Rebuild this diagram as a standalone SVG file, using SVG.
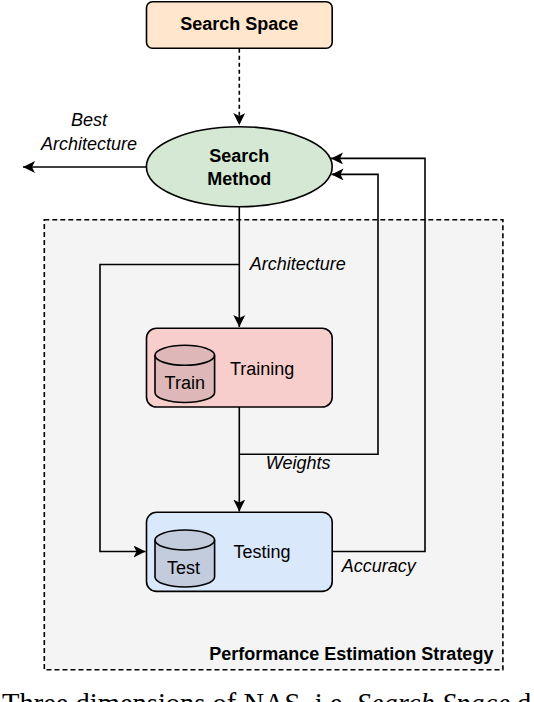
<svg xmlns="http://www.w3.org/2000/svg" width="534" height="702" viewBox="0 0 534 702">
<style>
.t{font-family:"Liberation Sans",Arial,sans-serif;font-size:18px;fill:#000}
.b{font-weight:bold}
.i{font-style:italic}
.n{stroke:#000;stroke-width:1.6}
.c{fill:none;stroke:#000;stroke-width:1.6}
</style>
<defs>
<marker id="ar" markerUnits="userSpaceOnUse" markerWidth="14" markerHeight="12" refX="12" refY="6" orient="auto">
<path d="M0,0 L12,6 L0,12 L3,6 z" fill="#000"/>
</marker>
</defs>
<rect x="0" y="0" width="534" height="702" fill="#fff"/>
<g id="perf-strategy">
<rect x="44.3" y="219.8" width="458.6" height="450" fill="#F4F4F4" stroke="#000" stroke-width="1.6" stroke-dasharray="5,3"/>
<text class="t b" x="493.4" y="660.2" text-anchor="end" font-size="18.5">Performance Estimation Strategy</text>
</g>
<g id="connectors">
<path class="c" d="M239.3,48.7 V125" stroke-dasharray="4,3" marker-end="url(#ar)"/>
<path class="c" d="M146.5,167 H23" marker-end="url(#ar)"/>
<path class="c" d="M239.3,206.8 V327" marker-end="url(#ar)"/>
<path class="c" d="M239.3,264.5 H100 V551.5 H145.5" marker-end="url(#ar)"/>
<path class="c" d="M239.3,407 V511.5" marker-end="url(#ar)"/>
<path class="c" d="M239.3,454.3 H378 V174.4 H331.5" marker-end="url(#ar)"/>
<path class="c" d="M332.2,551.5 H425 V158.4 H331" marker-end="url(#ar)"/>
<text class="t i" x="89" y="126" text-anchor="middle">Best</text>
<text class="t i" x="89" y="150" text-anchor="middle">Architecture</text>
<text class="t i" x="249.7" y="269.6">Architecture</text>
<text class="t i" x="265.8" y="468.7">Weights</text>
<text class="t i" x="341.7" y="572">Accuracy</text>
</g>
<g id="search-space">
<rect class="n" x="146.5" y="1.8" width="185.7" height="46.4" rx="6" fill="#FFE6CC"/>
<text class="t b" x="239.3" y="29.5" text-anchor="middle">Search Space</text>
</g>
<g id="search-method">
<ellipse class="n" cx="239.3" cy="166.7" rx="92.9" ry="40" fill="#D5E8D4"/>
<text class="t b" x="239.3" y="161.8" text-anchor="middle">Search</text>
<text class="t b" x="239.3" y="185" text-anchor="middle">Method</text>
</g>
<g id="training">
<rect class="n" x="146.5" y="328.2" width="185.7" height="78.8" rx="10" fill="#F8CECC"/>
<path class="n" d="M155,355.3 a29.8,10 0 0 1 59.6,0 v37.2 a29.8,10 0 0 1 -59.6,0 z" fill="#DEB8B8"/>
<path class="c" d="M155,355.3 a29.8,10 0 0 0 59.6,0"/>
<text class="t" x="164.6" y="388.9">Train</text>
<text class="t" x="230" y="374.6">Training</text>
</g>
<g id="testing">
<rect class="n" x="146.5" y="512.3" width="185.7" height="79.1" rx="10" fill="#DAE8FC"/>
<path class="n" d="M155,540 a29.8,10 0 0 1 59.6,0 v37 a29.8,10 0 0 1 -59.6,0 z" fill="#C2CCDD"/>
<path class="c" d="M155,540 a29.8,10 0 0 0 59.6,0"/>
<text class="t" x="167" y="574.4">Test</text>
<text class="t" x="233.4" y="558.3">Testing</text>
</g>
<text x="2" y="712.5" font-family="'Liberation Serif','Times New Roman',serif" font-size="28.5" fill="#000">Three dimensions of NAS, i.e. <tspan font-style="italic">Search Space</tspan> d</text>
</svg>
